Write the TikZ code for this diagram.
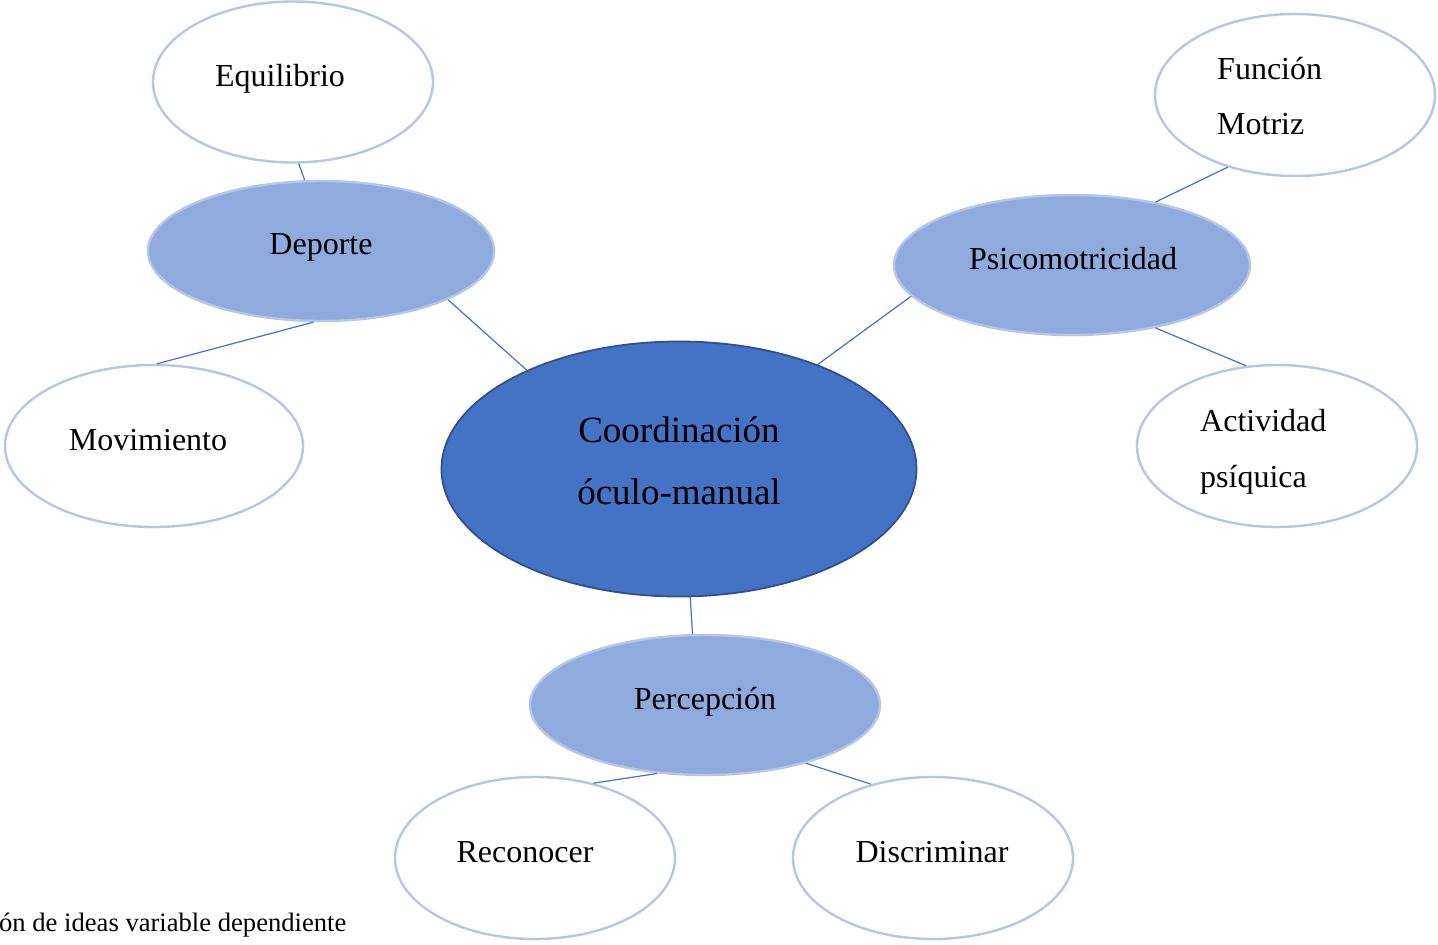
\documentclass[tikz,border=0pt]{standalone}
\usepackage{fontspec}
\setmainfont{Liberation Serif}
\usetikzlibrary{shapes.geometric}
\definecolor{dkblue}{HTML}{4472C4}
\definecolor{dkedge}{HTML}{2F528F}
\definecolor{midblue}{HTML}{8FAADC}
\definecolor{ltedge}{HTML}{B4C7E7}
\tikzset{
  oval/.style={ellipse, inner sep=0pt},
  leaf/.style={oval, draw=ltedge, line width=2.4pt, fill=white},
  branch/.style={oval, draw=ltedge, line width=2.4pt, fill=midblue},
  core/.style={oval, draw=dkedge, line width=1.8pt, fill=dkblue},
  lbl/.style={anchor=base, inner sep=0pt, font=\fontsize{32}{38}\selectfont},
  lblw/.style={anchor=base west, inner sep=0pt, font=\fontsize{32}{38}\selectfont},
  biglbl/.style={anchor=base, inner sep=0pt, font=\fontsize{37}{44}\selectfont},
  link/.style={draw=dkblue, line width=1.2pt}
}
\begin{document}
\begin{tikzpicture}[x=1pt,y=-1pt]
\useasboundingbox (0,0) rectangle (1438,945);
% ellipses
\node[leaf, minimum width=280pt, minimum height=161pt] (equ) at (293,82) {};
\node[branch, minimum width=346pt, minimum height=140pt] (dep) at (321,251) {};
\node[leaf, minimum width=298pt, minimum height=162pt] (mov) at (154,446) {};
\node[core, minimum width=475pt, minimum height=255pt] (cen) at (679,469) {};
\node[branch, minimum width=356pt, minimum height=140pt] (psi) at (1072,265) {};
\node[leaf, minimum width=280pt, minimum height=162pt] (fun) at (1295,95) {};
\node[leaf, minimum width=280pt, minimum height=162pt] (act) at (1277,446) {};
\node[branch, minimum width=350pt, minimum height=140pt] (per) at (705,705) {};
\node[leaf, minimum width=280pt, minimum height=162pt] (rec) at (535,858) {};
\node[leaf, minimum width=280pt, minimum height=162pt] (dis) at (933,858) {};
% connectors
\draw[link] (equ.-86.5) -- (dep.103.4);
\draw[link] (dep.-21.3) -- (cen.147.2);
\draw[link] (dep.-96.5) -- (mov.88);
\draw[link] (psi.191.1) -- (cen.37.1);
\draw[link] (psi.37.4) -- (fun.-133.8);
\draw[link] (psi.-37.4) -- (act.111.8);
\draw[link] (cen.-85.1) -- (per.100.2);
\draw[link] (per.-125.2) -- (rec.52.5);
\draw[link] (per.-30.1) -- (dis.130.5);
% labels
\node[lbl] (tequ) at (280,86) {Equilibrio};
\node[lbl] (tdep) at (321,254) {Deporte};
\node[lbl] (tmov) at (148,450) {Movimiento};
\node[biglbl] (tcen1) at (679,442) {Coordinación};
\node[biglbl] (tcen2) at (679,504) {óculo-manual};
\node[lbl] (tpsi) at (1073,269) {Psicomotricidad};
\node[lblw] (tfun1) at (1217,79) {Función};
\node[lblw] (tfun2) at (1217,134) {Motriz};
\node[lblw] (tact1) at (1200,431) {Actividad};
\node[lblw] (tact2) at (1200,487) {psíquica};
\node[lbl] (tper) at (705,709) {Percepción};
\node[lbl] (trec) at (525,862) {Reconocer};
\node[lbl] (tdis) at (932,862) {Discriminar};
\node[anchor=base west, inner sep=0pt, font=\fontsize{26.6}{30}\selectfont] (cap) at (-1,931) {ón de ideas variable dependiente};
\end{tikzpicture}
\end{document}
